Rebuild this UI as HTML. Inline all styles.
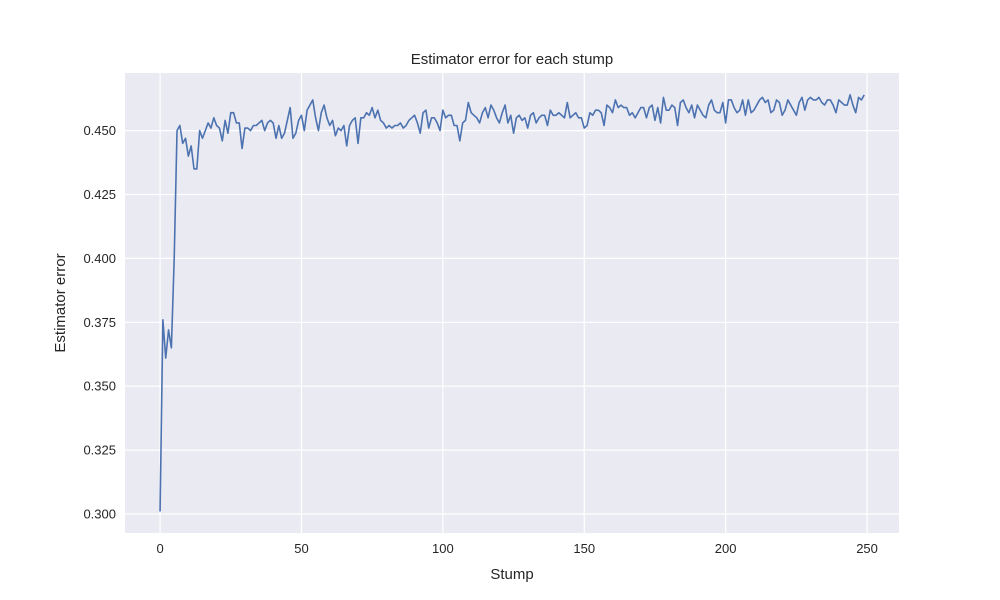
<!DOCTYPE html>
<html><head><meta charset="utf-8"><style>
body{margin:0;background:#fff;}
svg{display:block;font-family:"Liberation Sans","DejaVu Sans",sans-serif;}
</style></head><body>
<svg id="chart" width="1000" height="600">
<rect x="0" y="0" width="1000" height="600" fill="#fff"/>
<rect x="125" y="73" width="774" height="460" fill="#eaeaf2"/>
<g id="grid"></g>
<path id="line" fill="none" stroke="#4c72b0" stroke-width="1.6" stroke-linejoin="round"/>
<g id="ticks" fill="#262626" font-size="13"></g>
<text x="512" y="64" text-anchor="middle" font-size="15" fill="#262626">Estimator error for each stump</text>
<text x="512" y="579" text-anchor="middle" font-size="15" fill="#262626">Stump</text>
<text transform="translate(65,303) rotate(-90)" text-anchor="middle" font-size="15" fill="#262626">Estimator error</text>
</svg>
<script>
const xTicks=[0,50,100,150,200,250];
const yTicks=[0.300,0.325,0.350,0.375,0.400,0.425,0.450];
const errors=[0.301,0.376,0.361,0.372,0.365,0.400,0.450,0.452,0.445,0.447,0.440,0.444,0.435,0.435,0.450,0.447,0.450,0.453,0.451,0.455,0.452,0.451,0.446,0.454,0.449,0.457,0.457,0.453,0.453,0.443,0.451,
0.451,0.450,0.452,0.452,0.453,0.454,0.450,0.453,0.454,0.453,0.447,0.452,0.447,0.449,0.454,0.459,0.447,0.449,0.454,0.456,0.450,0.458,0.460,0.462,0.455,0.450,0.457,0.460,0.455,0.452,
0.454,0.448,0.451,0.450,0.452,0.444,0.452,0.454,0.455,0.445,0.455,0.455,0.457,0.456,0.459,0.455,0.458,0.454,0.453,0.451,0.452,0.451,0.452,0.452,0.453,0.451,0.452,0.454,0.455,0.456,0.453,0.449,0.457,0.458,0.451,0.455,0.455,0.453,0.450,0.458,
0.455,0.456,0.456,0.452,0.452,0.446,0.453,0.454,0.461,0.457,0.456,0.455,0.453,0.457,0.459,0.455,0.460,0.458,0.455,0.453,0.457,0.460,0.453,0.456,0.449,0.455,0.456,0.454,0.455,0.451,0.456,0.457,0.453,0.455,0.456,0.456,0.452,0.458,0.456,0.456,0.457,0.456,0.455,0.461,0.455,0.456,0.457,0.455,0.455,0.451,
0.452,0.457,0.456,0.458,0.458,0.457,0.452,0.460,0.459,0.457,0.462,0.459,0.460,0.459,0.459,0.456,0.457,0.455,0.457,0.459,0.459,0.455,0.459,0.460,0.454,0.459,0.453,0.463,0.458,0.458,0.460,0.459,0.452,0.461,0.462,0.459,0.457,0.460,0.455,0.460,0.458,0.456,0.455,0.460,0.462,0.458,0.457,0.457,0.461,0.453,
0.462,0.462,0.459,0.457,0.458,0.462,0.456,0.462,0.457,0.458,0.460,0.462,0.463,0.461,0.462,0.457,0.458,0.462,0.461,0.456,0.458,0.462,0.460,0.458,0.456,0.461,0.463,0.458,0.462,0.463,0.462,0.462,0.463,0.461,0.460,0.462,0.462,0.460,0.457,0.462,0.461,0.460,0.460,0.464,0.460,0.457,0.463,0.462,0.464];
const L=125,R=899,T=73,B=533;
const xMin=-12.4,xMax=261.3,yMin=0.29257,yMax=0.47254;
const xs=v=>L+(v-xMin)/(xMax-xMin)*(R-L);
const ys=v=>B-(v-yMin)/(yMax-yMin)*(B-T);
const NS='http://www.w3.org/2000/svg';
const grid=document.getElementById('grid'),ticks=document.getElementById('ticks');
xTicks.forEach(t=>{
 const l=document.createElementNS(NS,'line');
 l.setAttribute('x1',xs(t));l.setAttribute('x2',xs(t));l.setAttribute('y1',T);l.setAttribute('y2',B);
 l.setAttribute('stroke','#fff');l.setAttribute('stroke-width','1.2');
 
 
 grid.appendChild(l);
 const tx=document.createElementNS(NS,'text');
 tx.setAttribute('x',xs(t));tx.setAttribute('y',B+20);tx.setAttribute('text-anchor','middle');
 tx.textContent=t;
 
 
 ticks.appendChild(tx);
});
yTicks.forEach(t=>{
 const l=document.createElementNS(NS,'line');
 l.setAttribute('x1',L);l.setAttribute('x2',R);l.setAttribute('y1',ys(t));l.setAttribute('y2',ys(t));
 l.setAttribute('stroke','#fff');l.setAttribute('stroke-width','1.2');
 
 
 grid.appendChild(l);
 const tx=document.createElementNS(NS,'text');
 tx.setAttribute('x',L-9);tx.setAttribute('y',ys(t)+4.5);tx.setAttribute('text-anchor','end');
 tx.textContent=t.toFixed(3);
 
 
 ticks.appendChild(tx);
});
document.getElementById('line').setAttribute('d',errors.map((v,i)=>(i?'L':'M')+xs(i).toFixed(2)+','+ys(v).toFixed(2)).join(''));
</script>
</body></html>
